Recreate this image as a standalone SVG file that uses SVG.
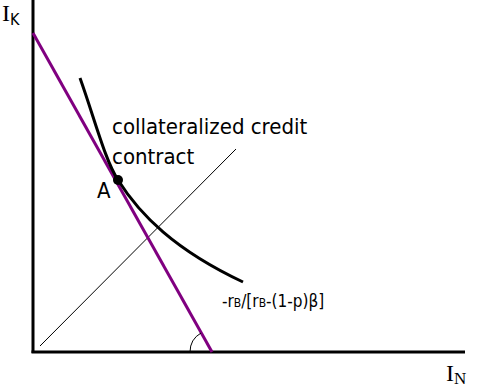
<svg xmlns="http://www.w3.org/2000/svg" width="483" height="391" viewBox="0 0 483 391">
<style>
.ax{stroke:#000;stroke-width:3;fill:none}
.lbl{font-family:"DejaVu Sans Condensed","DejaVu Sans",Verdana,sans-serif;fill:#000}
.ser{font-family:"Liberation Serif","Times New Roman",serif;fill:#000}
</style>
<rect width="483" height="391" fill="#fff"/>
<g id="axes">
<line class="ax" x1="33" y1="0" x2="33" y2="353"/>
<line class="ax" x1="31.5" y1="352" x2="465" y2="352"/>
</g>
<g id="connectors">
<line x1="40" y1="346" x2="236" y2="149" stroke="#000" stroke-width="1"/>
<line x1="33" y1="33" x2="212" y2="352" stroke="#800080" stroke-width="3"/>
<path d="M80 78 C 95 120, 105 160, 118 180 C 140 215, 175 250, 243 282" fill="none" stroke="#000" stroke-width="3"/>
<path d="M190 352 A 22 22 0 0 1 201 333" fill="none" stroke="#000" stroke-width="1"/>
</g>
<g id="pointA">
<circle cx="118" cy="180" r="5" fill="#000"/>
<text class="lbl" x="97" y="198" font-size="22">A</text>
</g>
<g id="curveLabel">
<text class="lbl" x="112" y="134" font-size="22">collateralized credit</text>
<text class="lbl" x="112" y="164" font-size="22">contract</text>
</g>
<g id="slopeLabel">
<text class="lbl" x="222" y="307" font-size="17">-r<tspan font-size="12">B</tspan>/[r<tspan font-size="12">B</tspan>-(1-p)β]</text>
</g>
<g id="yLabel">
<text class="ser" x="2" y="21" font-size="24">I<tspan class="lbl" font-size="16" dy="4">K</tspan></text>
</g>
<g id="xLabel">
<text class="ser" x="446" y="381" font-size="24">I<tspan font-size="17" dy="3">N</tspan></text>
</g>
</svg>
